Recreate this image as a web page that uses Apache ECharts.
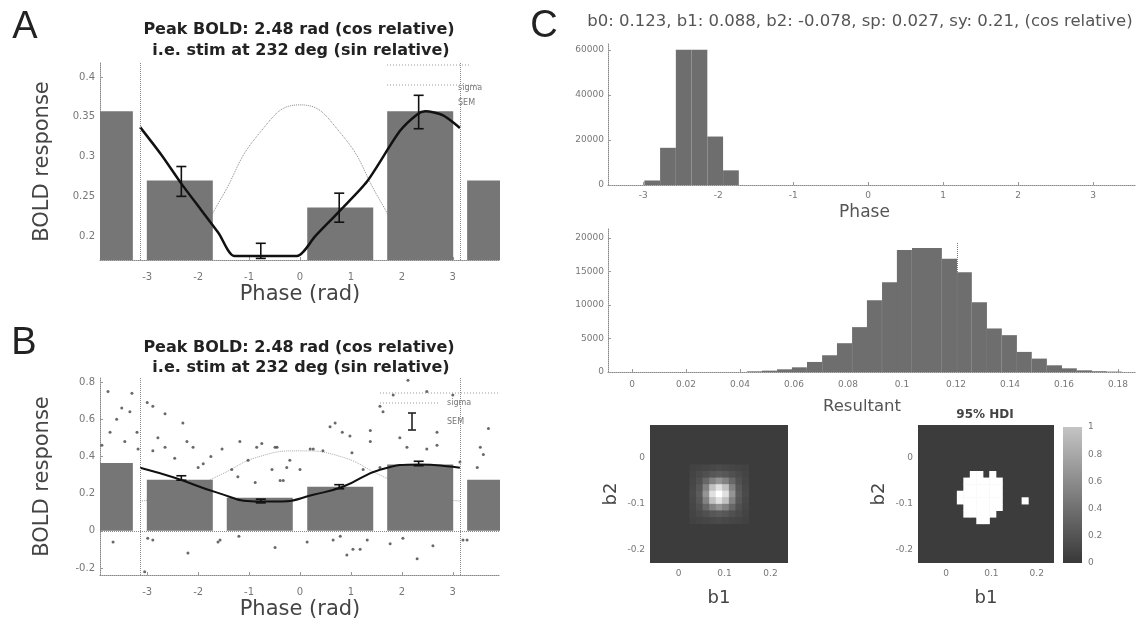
<!DOCTYPE html>
<html>
<head>
<meta charset="utf-8">
<title>BOLD phase fit</title>
<script src="https://cdn.jsdelivr.net/npm/echarts@6.0.0/dist/echarts.min.js"></script>
<style>
  html, body { margin: 0; padding: 0; background: #fff; }
  #chart { width: 1138px; height: 630px; }
</style>
</head>
<body>
<div id="chart"></div>
<script>
  // ---- panels A / B : BOLD binned by phase (bins wrapped at both edges) ----
  const binPhase = [-3.93, -2.36, -0.79, 0.79, 2.36, 3.93]
  const binMeanA = [0.357, 0.27, 0.17, 0.236, 0.357, 0.27]
  const binMeanB = [0.365, 0.274, 0.177, 0.237, 0.357, 0.274]

  const errPhase = [-2.33, -0.77, 0.77, 2.33]
  const errLowA = [0.25, 0.172, 0.2175, 0.335]
  const errHighA = [0.2875, 0.191, 0.254, 0.377]
  const errLowB = [0.272, 0.15, 0.226, 0.35]
  const errHighB = [0.296, 0.17, 0.248, 0.374]

  const fitPhaseA = [-3.14, -2.72, -2.33, -1.93, -1.6, -1.29, -0.66, -0.06, 0.3, 0.79, 1.32, 1.96, 2.3, 2.46, 2.8, 3.14]
  const fitA = [0.337, 0.302, 0.266, 0.232, 0.204, 0.175, 0.175, 0.175, 0.2, 0.2325, 0.269, 0.332, 0.353, 0.357, 0.352, 0.336]
  const fitPhaseB = [-3.14, -2.46, -1.61, -0.88, -0.35, 0.26, 0.84, 1.57, 2.36, 3.0, 3.14]
  const fitB = [0.339, 0.285, 0.204, 0.158, 0.158, 0.194, 0.237, 0.328, 0.357, 0.344, 0.339]

  const stimPhase = [-3.14, -2.36, -1.57, -0.79, 0, 0.79, 1.57, 2.36, 3.14]
  const stimA = [0.125, 0.16, 0.245, 0.33, 0.365, 0.33, 0.245, 0.16, 0.125]
  const stimB = [0.16, 0.2, 0.3, 0.4, 0.43, 0.4, 0.3, 0.2, 0.16]

  const trialPhaseB = [-3.93, -3.77, -3.3, -3.5, -3.34, -2.65, -3.73, -3.2, -3.89, -3.44, -3.18, -2.89, -2.65, -2.79, -2.22,
    -2.46, -2.1, -2.0, -1.53, -1.02, -0.75, -0.49, -1.34, -1.22, -0.88, -0.55, -0.39, -3.67, -2.99, -1.61, -0.49, -3.05,
    2.12, 2.49, 1.83, 1.63, 3.0, 0.69, 0.83, 1.38, 0.26, 0.45, 1.02, 1.96, 2.1, 2.49, 2.69, 2.69, 3.54, 3.6, -0.26, 0.0,
    1.24, 1.57, -0.33, 3.14, 3.48, 0.14, 0.79, 1.18, 2.02, 2.61, 3.28, 0.92, -1.18, -0.85, -0.45, -0.2, 0.2, 0.59, 0.98,
    1.38, 1.57, -2.89, -2.89, -1.57, 0.65, 1.04, 1.32, 1.77, 3.2, -2.3, -1.9, -1.75, -3.6, 3.7, -3.0, -2.2, 2.3, -1.2,
    -3.6, -2.5, -2.0, -1.0, -0.5, 0.5, 1.0, 2.0, 2.6, 3.6, -3.8, 0.3]
  const trialBoldB = [0.8, 0.75, 0.74, 0.66, 0.64, 0.63, 0.53, 0.53, 0.46, 0.48, 0.44, 0.43, 0.45, 0.5, 0.48,
    0.39, 0.45, 0.34, 0.44, 0.38, 0.47, 0.45, 0.33, 0.29, 0.26, 0.33, 0.27, -0.06, -0.04, -0.06, -0.09, -0.22,
    0.81, 0.75, 0.73, 0.64, 0.73, 0.58, 0.53, 0.48, 0.44, 0.43, 0.42, 0.5, 0.45, 0.44, 0.46, 0.53, 0.45, 0.41, 0.34, 0.33,
    0.33, 0.34, 0.27, 0.37, 0.34, -0.06, -0.03, -0.1, -0.04, -0.08, -0.05, -0.13, 0.48, 0.45, 0.45, 0.38, 0.44, 0.56, 0.51,
    0.54, 0.67, 0.67, -0.05, -0.05, -0.05, -0.1, -0.05, -0.07, -0.05, 0.58, 0.36, 0.4, 0.6, 0.55, 0.69, -0.12, -0.15, -0.03,
    0.2, 0.15, 0.1, 0.08, 0.12, 0.15, 0.1, 0.2, 0.25, 0.18, 0.1, 0.05]

  const phaseTicks = [-3, -2, -1, 0, 1, 2, 3]
  const boldTicksA = [0.2, 0.25, 0.3, 0.35, 0.4]
  const boldTicksB = [-0.2, 0, 0.2, 0.4, 0.6, 0.8]

  // ---- panel C : posterior samples ----
  const phaseBinCenter = [-2.88, -2.67, -2.46, -2.25, -2.04, -1.83]
  const phaseBinCount = [2000, 16500, 60000, 60000, 21500, 6500]
  const phaseCountTicks = [0, 20000, 40000, 60000]

  const resBinCenter = [0.0454, 0.0509, 0.0565, 0.062, 0.0676, 0.0732, 0.0787, 0.0843, 0.0898, 0.0954, 0.1009, 0.1065,
    0.112, 0.1176, 0.1231, 0.1287, 0.1342, 0.1398, 0.1453, 0.1509, 0.1565, 0.162, 0.1676, 0.1731, 0.1787]
  const resBinCount = [100, 200, 400, 700, 1500, 2500, 4300, 6700, 10700, 13400, 18200, 18500,
    18500, 16900, 14900, 10400, 6500, 5500, 3000, 2000, 1000, 550, 250, 120, 60]
  const resMarker = 0.1204
  const resTicks = [0, 0.02, 0.04, 0.06, 0.08, 0.1, 0.12, 0.14, 0.16, 0.18]
  const resCountTicks = [0, 5000, 10000, 15000, 20000]

  // 21 x 21 grid over b1 / b2, rows counted from the top
  const b1Ticks = [0, 0.1, 0.2]
  const b2Ticks = [-0.2, -0.1, 0]
  const gridN = 21
  const b1Min = -0.062
  const b1Max = 0.238
  const b2Min = -0.228
  const b2Max = 0.072
  const densityPatchCol = 6
  const densityPatchRow = 6
  const densityPatch = [
    [0.03, 0.04, 0.05, 0.06, 0.07, 0.06, 0.05, 0.04, 0.03],
    [0.04, 0.07, 0.10, 0.14, 0.16, 0.14, 0.10, 0.07, 0.04],
    [0.05, 0.10, 0.22, 0.36, 0.45, 0.36, 0.22, 0.10, 0.05],
    [0.06, 0.14, 0.36, 0.68, 0.84, 0.68, 0.36, 0.14, 0.06],
    [0.07, 0.16, 0.45, 0.84, 1.00, 0.84, 0.45, 0.16, 0.07],
    [0.06, 0.14, 0.36, 0.68, 0.84, 0.68, 0.36, 0.14, 0.06],
    [0.05, 0.10, 0.22, 0.36, 0.45, 0.36, 0.22, 0.10, 0.05],
    [0.04, 0.07, 0.10, 0.14, 0.16, 0.14, 0.10, 0.07, 0.04],
    [0.03, 0.04, 0.05, 0.06, 0.07, 0.06, 0.05, 0.04, 0.03]
  ]
  const hdiRows = [7, 8, 9, 10, 11, 12, 13, 14]
  const hdiCols = [
    [8, 9, 11],
    [7, 8, 9, 10, 11, 12],
    [7, 8, 9, 10, 11, 12],
    [6, 7, 8, 9, 10, 11, 12],
    [6, 7, 8, 9, 10, 11, 12, 16],
    [7, 8, 9, 10, 11, 12],
    [7, 8, 9, 10, 11],
    [9, 10]
  ]

  const FONT = 'DejaVu Sans'
  const tickText = { color: '#777', fontSize: 10, fontFamily: FONT }
  const dottedAxis = { show: true, onZero: false, lineStyle: { color: '#888', type: 'dotted', width: 1 } }
  const nameText = { color: '#444', fontSize: 21, fontFamily: FONT }
  const barGray = '#767676'

  function zip (xs, ys) {
    return xs.map((x, i) => [x, ys[i]])
  }

  function grayOf (v) {
    const g = Math.round(60 + v * 195)
    return 'rgb(' + g + ',' + g + ',' + g + ')'
  }

  const cellB1 = (b1Max - b1Min) / gridN
  const cellB2 = (b2Max - b2Min) / gridN
  let densityCells = []
  densityPatch.forEach((row, r) => {
    row.forEach((v, c) => {
      densityCells.push([b1Min + (densityPatchCol + c) * cellB1, b2Max - (densityPatchRow + r) * cellB2, v])
    })
  })
  let hdiCells = []
  hdiRows.forEach((r, i) => {
    hdiCols[i].forEach(c => {
      hdiCells.push([b1Min + c * cellB1, b2Max - r * cellB2, 1])
    })
  })

  function renderCell (params, api) {
    const p0 = api.coord([api.value(0), api.value(1)])
    const p1 = api.coord([api.value(0) + cellB1, api.value(1) - cellB2])
    return {
      type: 'rect',
      shape: { x: p0[0], y: p0[1], width: p1[0] - p0[0] + 0.6, height: p1[1] - p0[1] + 0.6 },
      style: { fill: grayOf(api.value(2)) }
    }
  }

  // bars drawn from 0 up to the value, clipped to the plot box
  function barRenderer (halfWidth, color) {
    return function (params, api) {
      const x = api.value(0)
      const p0 = api.coord([x - halfWidth, api.value(1)])
      const p1 = api.coord([x + halfWidth, 0])
      const rect = echarts.graphic.clipRectByRect({
        x: p0[0], y: p0[1], width: p1[0] - p0[0], height: p1[1] - p0[1]
      }, params.coordSys)
      return rect && { type: 'rect', shape: rect, style: { fill: color } }
    }
  }

  function renderErr (params, api) {
    const lo = api.coord([api.value(0), api.value(1)])
    const hi = api.coord([api.value(0), api.value(2)])
    const cap = 5
    const st = { stroke: '#111', lineWidth: 1.6 }
    return {
      type: 'group',
      children: [
        { type: 'line', shape: { x1: lo[0], y1: lo[1], x2: hi[0], y2: hi[1] }, style: st },
        { type: 'line', shape: { x1: lo[0] - cap, y1: lo[1], x2: lo[0] + cap, y2: lo[1] }, style: st },
        { type: 'line', shape: { x1: hi[0] - cap, y1: hi[1], x2: hi[0] + cap, y2: hi[1] }, style: st }
      ]
    }
  }

  function valueAxis (gridIndex, min, max, ticks, extra) {
    return Object.assign({
      type: 'value',
      gridIndex: gridIndex,
      min: min,
      max: max,
      splitLine: { show: false },
      axisLine: dottedAxis,
      axisTick: { show: true, inside: true, length: 3, customValues: ticks, lineStyle: { color: '#999' } },
      axisLabel: Object.assign({ customValues: ticks }, tickText)
    }, extra || {})
  }

  function labels (ticks, margin, size) {
    return Object.assign({ customValues: ticks, margin: margin, formatter: v => String(v) }, tickText, { fontSize: size })
  }

  const piLines = {
    silent: true,
    symbol: 'none',
    label: { show: false },
    lineStyle: { color: '#888', type: 'dotted', width: 1 },
    data: [{ xAxis: -3.1416 }, { xAxis: 3.1416 }]
  }

  const heatName = { color: '#444', fontSize: 18, fontFamily: FONT }
  const titleFont = 'bold 16px "DejaVu Sans"'

  const myChart = echarts.init(document.getElementById('chart'))
  myChart.setOption({
    animation: false,
    backgroundColor: '#fff',
    grid: [
      { left: 100, top: 63, width: 400, height: 197, outerBoundsMode: 'none' },
      { left: 100, top: 378, width: 400, height: 197, outerBoundsMode: 'none' },
      { left: 608, top: 43, width: 527, height: 142, outerBoundsMode: 'none' },
      { left: 608, top: 228, width: 528, height: 144, outerBoundsMode: 'none' },
      { left: 650, top: 425, width: 138, height: 138, outerBoundsMode: 'none', show: true, backgroundColor: grayOf(0), borderWidth: 0 },
      { left: 918, top: 425, width: 136, height: 138, outerBoundsMode: 'none', show: true, backgroundColor: grayOf(0), borderWidth: 0 },
      { left: 1063, top: 427, width: 19, height: 136, outerBoundsMode: 'none' }
    ],
    xAxis: [
      valueAxis(0, -3.927, 3.927, phaseTicks, {
        name: 'Phase (rad)', nameLocation: 'middle', nameGap: 24, nameTextStyle: nameText,
        axisLabel: labels(phaseTicks, 12, 10)
      }),
      valueAxis(1, -3.927, 3.927, phaseTicks, {
        name: 'Phase (rad)', nameLocation: 'middle', nameGap: 24, nameTextStyle: nameText,
        axisLabel: labels(phaseTicks, 12, 10)
      }),
      valueAxis(2, -3.47, 3.56, phaseTicks, {
        name: 'Phase', nameLocation: 'middle', nameGap: 19,
        nameTextStyle: { color: '#555', fontSize: 17, fontFamily: FONT, padding: [0, 14, 0, 0] },
        axisLabel: labels(phaseTicks, 6, 9)
      }),
      valueAxis(3, -0.0089, 0.1867, resTicks, {
        name: 'Resultant', nameLocation: 'middle', nameGap: 26,
        nameTextStyle: { color: '#555', fontSize: 16.5, fontFamily: FONT, padding: [0, 20, 0, 0] },
        axisLabel: labels(resTicks, 8, 9)
      }),
      valueAxis(4, b1Min, b1Max, b1Ticks, {
        name: 'b1', nameLocation: 'middle', nameGap: 26, nameTextStyle: heatName,
        axisLine: { show: false }, axisTick: { show: false },
        axisLabel: labels(b1Ticks, 6, 9)
      }),
      valueAxis(5, b1Min, b1Max, b1Ticks, {
        name: 'b1', nameLocation: 'middle', nameGap: 26, nameTextStyle: heatName,
        axisLine: { show: false }, axisTick: { show: false },
        axisLabel: labels(b1Ticks, 6, 9)
      }),
      { type: 'category', gridIndex: 6, data: ['cb'], show: false }
    ],
    yAxis: [
      valueAxis(0, 0.17, 0.4176, boldTicksA, {
        name: 'BOLD response', nameLocation: 'middle', nameGap: 47, nameTextStyle: nameText,
        axisLabel: labels(boldTicksA, 5, 10)
      }),
      valueAxis(1, -0.238, 0.822, boldTicksB, {
        name: 'BOLD response', nameLocation: 'middle', nameGap: 47, nameTextStyle: nameText,
        axisLabel: labels(boldTicksB, 5, 10)
      }),
      valueAxis(2, 0, 63000, phaseCountTicks, { axisLabel: labels(phaseCountTicks, 4, 9) }),
      valueAxis(3, 0, 21500, resCountTicks, { axisLabel: labels(resCountTicks, 4, 9) }),
      valueAxis(4, b2Min, b2Max, b2Ticks, {
        name: 'b2', nameLocation: 'middle', nameGap: 30, nameTextStyle: heatName,
        axisLine: { show: false }, axisTick: { show: false },
        axisLabel: labels(b2Ticks, 5, 9)
      }),
      valueAxis(5, b2Min, b2Max, b2Ticks, {
        name: 'b2', nameLocation: 'middle', nameGap: 30, nameTextStyle: heatName,
        axisLine: { show: false }, axisTick: { show: false },
        axisLabel: labels(b2Ticks, 5, 9)
      }),
      {
        type: 'value', gridIndex: 6, min: 0, max: 1, interval: 0.2, position: 'right',
        splitLine: { show: false }, axisLine: { show: false },
        axisTick: { show: false },
        axisLabel: Object.assign({ margin: 6 }, tickText, { fontSize: 9 })
      }
    ],
    graphic: [
      { type: 'text', x: 25, y: 28, style: { text: 'A', fontSize: 38, fontFamily: 'Liberation Sans', fill: '#222', align: 'center', verticalAlign: 'middle' } },
      { type: 'text', x: 24, y: 344, style: { text: 'B', fontSize: 38, fontFamily: 'Liberation Sans', fill: '#222', align: 'center', verticalAlign: 'middle' } },
      { type: 'text', x: 544, y: 27, style: { text: 'C', fontSize: 38, fontFamily: 'Liberation Sans', fill: '#222', align: 'center', verticalAlign: 'middle' } },
      { type: 'text', x: 299, y: 30, style: { text: 'Peak BOLD: 2.48 rad (cos relative)', font: titleFont, fill: '#222', align: 'center', verticalAlign: 'middle' } },
      { type: 'text', x: 301, y: 51, style: { text: 'i.e. stim at 232 deg (sin relative)', font: titleFont, fill: '#222', align: 'center', verticalAlign: 'middle' } },
      { type: 'text', x: 299, y: 348, style: { text: 'Peak BOLD: 2.48 rad (cos relative)', font: titleFont, fill: '#222', align: 'center', verticalAlign: 'middle' } },
      { type: 'text', x: 301, y: 368, style: { text: 'i.e. stim at 232 deg (sin relative)', font: titleFont, fill: '#222', align: 'center', verticalAlign: 'middle' } },
      { type: 'text', x: 860, y: 22, style: { text: 'b0: 0.123, b1: 0.088, b2: -0.078, sp: 0.027, sy: 0.21, (cos relative)', font: '16.5px "DejaVu Sans"', fill: '#555', align: 'center', verticalAlign: 'middle' } },
      { type: 'text', x: 985, y: 415, style: { text: '95% HDI', font: 'bold 12px "DejaVu Sans"', fill: '#444', align: 'center', verticalAlign: 'middle' } },
      // legend boxes (sigma / SEM)
      { type: 'line', shape: { x1: 387, y1: 65, x2: 470, y2: 65 }, style: { stroke: '#999', lineDash: [1, 2] } },
      { type: 'line', shape: { x1: 387, y1: 85, x2: 480, y2: 85 }, style: { stroke: '#999', lineDash: [1, 2] } },
      { type: 'text', x: 458, y: 88, style: { text: 'sigma', font: '8px "DejaVu Sans"', fill: '#777', verticalAlign: 'middle' } },
      { type: 'text', x: 458, y: 103, style: { text: 'SEM', font: '8px "DejaVu Sans"', fill: '#777', verticalAlign: 'middle' } },
      { type: 'line', shape: { x1: 380, y1: 393, x2: 500, y2: 393 }, style: { stroke: '#999', lineDash: [1, 2] } },
      { type: 'line', shape: { x1: 380, y1: 403, x2: 440, y2: 403 }, style: { stroke: '#999', lineDash: [1, 2] } },
      { type: 'text', x: 447, y: 403, style: { text: 'sigma', font: '8px "DejaVu Sans"', fill: '#777', verticalAlign: 'middle' } },
      { type: 'text', x: 447, y: 422, style: { text: 'SEM', font: '8px "DejaVu Sans"', fill: '#777', verticalAlign: 'middle' } },
      { type: 'line', shape: { x1: 412, y1: 413, x2: 412, y2: 430 }, style: { stroke: '#222', lineWidth: 1.6 } },
      { type: 'line', shape: { x1: 408, y1: 413, x2: 416, y2: 413 }, style: { stroke: '#222', lineWidth: 1.6 } },
      { type: 'line', shape: { x1: 408, y1: 430, x2: 416, y2: 430 }, style: { stroke: '#222', lineWidth: 1.6 } }
    ],
    series: [
      // ---- A ----
      {
        type: 'line', xAxisIndex: 0, yAxisIndex: 0, z: 1, smooth: true, symbol: 'none',
        data: zip(stimPhase, stimA), lineStyle: { color: '#888', width: 1, type: 'dotted' }
      },
      {
        type: 'custom', xAxisIndex: 0, yAxisIndex: 0, z: 2, renderItem: barRenderer(0.648, barGray),
        data: zip(binPhase, binMeanA)
      },
      {
        type: 'line', xAxisIndex: 0, yAxisIndex: 0, z: 3, smooth: 0.25, symbol: 'none',
        data: zip(fitPhaseA, fitA), lineStyle: { color: '#111', width: 2.5 },
        markLine: piLines
      },
      {
        type: 'custom', xAxisIndex: 0, yAxisIndex: 0, z: 4, renderItem: renderErr,
        data: errPhase.map((x, i) => [x, errLowA[i], errHighA[i]])
      },
      // ---- B ----
      {
        type: 'scatter', xAxisIndex: 1, yAxisIndex: 1, z: 1, symbolSize: 3,
        data: zip(trialPhaseB, trialBoldB), itemStyle: { color: '#444' }
      },
      {
        type: 'line', xAxisIndex: 1, yAxisIndex: 1, z: 1, smooth: true, symbol: 'none',
        data: zip(stimPhase, stimB), lineStyle: { color: '#aaa', width: 1, type: 'dotted' }
      },
      {
        type: 'custom', xAxisIndex: 1, yAxisIndex: 1, z: 2, renderItem: barRenderer(0.648, barGray),
        data: zip(binPhase, binMeanB)
      },
      {
        type: 'line', xAxisIndex: 1, yAxisIndex: 1, z: 3, smooth: true, symbol: 'none',
        data: zip(fitPhaseB, fitB), lineStyle: { color: '#111', width: 2 },
        markLine: Object.assign({}, piLines, { data: [{ xAxis: -3.1416 }, { xAxis: 3.1416 }, { yAxis: 0 }] })
      },
      {
        type: 'custom', xAxisIndex: 1, yAxisIndex: 1, z: 4, renderItem: renderErr,
        data: errPhase.map((x, i) => [x, errLowB[i], errHighB[i]])
      },
      // ---- C ----
      {
        type: 'custom', xAxisIndex: 2, yAxisIndex: 2, renderItem: barRenderer(0.105, '#6e6e6e'),
        data: zip(phaseBinCenter, phaseBinCount)
      },
      {
        type: 'custom', xAxisIndex: 3, yAxisIndex: 3, renderItem: barRenderer(0.00278, '#6e6e6e'),
        data: zip(resBinCenter, resBinCount)
      },
      {
        type: 'line', xAxisIndex: 3, yAxisIndex: 3, symbol: 'none', data: [],
        markLine: {
          silent: true, symbol: 'none', label: { show: false },
          lineStyle: { color: '#777', type: 'dotted', width: 1 },
          data: [[{ coord: [resMarker, 0] }, { coord: [resMarker, 19300] }]]
        }
      },
      {
        type: 'custom', xAxisIndex: 4, yAxisIndex: 4, renderItem: renderCell, data: densityCells
      },
      {
        type: 'custom', xAxisIndex: 5, yAxisIndex: 5, renderItem: renderCell, data: hdiCells
      },
      {
        type: 'bar', xAxisIndex: 6, yAxisIndex: 6, barWidth: '100%', data: [1],
        itemStyle: {
          color: new echarts.graphic.LinearGradient(0, 0, 0, 1, [
            { offset: 0, color: '#c4c4c4' },
            { offset: 1, color: '#383838' }
          ])
        }
      }
    ]
  })
</script>
</body>
</html>
